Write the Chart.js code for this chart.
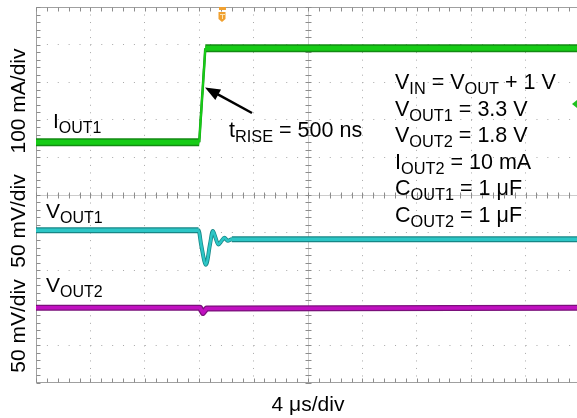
<!DOCTYPE html>
<html>
<head>
<meta charset="utf-8">
<script src="https://cdn.jsdelivr.net/npm/chart.js@4.4.1/dist/chart.umd.min.js"></script>
<style>
html, body { margin: 0; padding: 0; background: #fff; overflow: hidden; }
canvas { display: block; }
</style>
</head>
<body>
<canvas id="scope" width="592" height="418"></canvas>
<script>
// Time base: 4 us/div, 10 divisions, centred on 0
const timeMin = -20;
const timeMax = 20;
const timePerDiv = 4;
const triggerTime = -6.3;

// IOUT1 load step (mA), 100 mA/div
const iout1Time = [-20, -8.0, -7.55, 20];
const iout1 = [0, 0, 250, 250];

// VOUT1 deviation (mV), 50 mV/div
const vout1Time = [-20, -8.05, -7.85, -7.5, -7.2, -7.0, -6.8, -6.6, -6.35, -6.15, -5.9, -5.6, 20];
const vout1 = [0, 0, -20, -46, -18, -1, -10, -19, -14, -10, -14, -12, -12];

// VOUT2 deviation (mV), 50 mV/div
const vout2Time = [-20, -7.95, -7.72, -7.45, 20];
const vout2 = [0, 0, -7, -1, 0];

// test conditions shown on the screen
const conditions = [
    ['V', 'IN', ' = V', 'OUT', ' + 1 V'],
    ['V', 'OUT1', ' = 3.3 V'],
    ['V', 'OUT2', ' = 1.8 V'],
    ['I', 'OUT2', ' = 10 mA'],
    ['C', 'OUT1', ' = 1 \u03bcF'],
    ['C', 'OUT2', ' = 1 \u03bcF']
];

function toPoints(xs, ys) {
    return xs.map((t, i) => ({ x: t, y: ys[i] }));
}

const FONT = '"Liberation Sans", Arial, Helvetica, sans-serif';

// draw text where every odd part is a subscript
function drawSubText(ctx, parts, x, y, size) {
    let cx = x;
    parts.forEach((p, i) => {
        const sub = i % 2 === 1;
        ctx.font = (sub ? size * 0.76 : size) + 'px ' + FONT;
        ctx.fillText(p, cx, sub ? y + 5 : y);
        cx += ctx.measureText(p).width;
    });
}

// oscilloscope graticule: frame, centre cross and minor ticks
const graticule = {
    id: 'graticule',
    beforeDatasetsDraw(chart) {
        const { ctx, chartArea: a, scales: { x, y } } = chart;
        const cx = Math.round(x.getPixelForValue(0)) + 0.5;
        const cy = Math.round(y.getPixelForValue(5)) + 0.5;
        const L = Math.round(a.left) + 0.5, T = Math.round(a.top) + 0.5, B = Math.round(a.bottom) - 0.5;
        ctx.save();
        ctx.lineWidth = 1;
        ctx.strokeStyle = '#cccccc';
        ctx.beginPath();
        ctx.moveTo(cx, a.top); ctx.lineTo(cx, a.bottom);
        ctx.moveTo(a.left, cy); ctx.lineTo(a.right, cy);
        ctx.stroke();
        ctx.strokeStyle = '#a0a0a0';
        ctx.beginPath();
        ctx.moveTo(L, a.top); ctx.lineTo(L, a.bottom);
        ctx.moveTo(a.left, T); ctx.lineTo(a.right, T);
        ctx.moveTo(a.left, B); ctx.lineTo(a.right, B);
        ctx.stroke();
        ctx.strokeStyle = '#8c8c8c';
        ctx.beginPath();
        for (let t = timeMin; t <= timeMax + 0.01; t += timePerDiv / 5) {
            const px = Math.round(x.getPixelForValue(t)) + 0.5;
            ctx.moveTo(px, cy - 3); ctx.lineTo(px, cy + 3);
            ctx.moveTo(px, T); ctx.lineTo(px, T + 4);
            ctx.moveTo(px, B); ctx.lineTo(px, B - 4);
        }
        for (let d = 0; d <= 10.01; d += 0.2) {
            const py = Math.round(y.getPixelForValue(d)) + 0.5;
            ctx.moveTo(cx - 3, py); ctx.lineTo(cx + 3, py);
            ctx.moveTo(L, py); ctx.lineTo(L + 4, py);
        }
        ctx.stroke();
        ctx.restore();
    }
};

// labels, arrow and channel markers
const annotations = {
    id: 'annotations',
    afterDatasetsDraw(chart) {
        const { ctx, scales: { x, y } } = chart;
        ctx.save();
        ctx.fillStyle = '#000';
        ctx.textBaseline = 'alphabetic';
        ctx.textAlign = 'left';

        drawSubText(ctx, ['I', 'OUT1'], 53, 128, 21);
        drawSubText(ctx, ['t', 'RISE', ' = 500 ns'], 229, 137, 21.5);
        drawSubText(ctx, ['V', 'OUT1'], 46, 218, 21);
        drawSubText(ctx, ['V', 'OUT2'], 46, 292, 21);
        conditions.forEach((line, i) => drawSubText(ctx, line, 395, 89 + i * 26.5, 21.5));

        // vertical scale labels
        ctx.font = '21px ' + FONT;
        ctx.textAlign = 'center';
        [['100 mA/div', 101], ['50 mV/div', 221], ['50 mV/div', 326]].forEach(([txt, cyPos]) => {
            ctx.save();
            ctx.translate(25, cyPos);
            ctx.rotate(-Math.PI / 2);
            ctx.fillText(txt, 0, 0);
            ctx.restore();
        });

        // arrow pointing at the rising edge
        const tipX = 205, tipY = 87.5, tailX = 252, tailY = 113;
        const ang = Math.atan2(tipY - tailY, tipX - tailX);
        ctx.strokeStyle = '#000';
        ctx.lineWidth = 2.5;
        ctx.beginPath();
        ctx.moveTo(tailX, tailY);
        ctx.lineTo(tipX - 12 * Math.cos(ang), tipY - 12 * Math.sin(ang));
        ctx.stroke();
        ctx.beginPath();
        ctx.moveTo(tipX, tipY);
        ctx.lineTo(tipX - 15 * Math.cos(ang) + 6 * Math.sin(ang), tipY - 15 * Math.sin(ang) - 6 * Math.cos(ang));
        ctx.lineTo(tipX - 15 * Math.cos(ang) - 6 * Math.sin(ang), tipY - 15 * Math.sin(ang) + 6 * Math.cos(ang));
        ctx.closePath();
        ctx.fill();

        // trigger marker
        const tx = Math.round(x.getPixelForValue(triggerTime));
        ctx.fillStyle = '#f0a030';
        ctx.fillRect(tx - 3, 7, 7, 3);
        ctx.beginPath();
        ctx.moveTo(tx - 3.5, 12);
        ctx.lineTo(tx + 3.5, 12);
        ctx.lineTo(tx + 3.5, 19);
        ctx.lineTo(tx, 22);
        ctx.lineTo(tx - 3.5, 19);
        ctx.closePath();
        ctx.fill();
        ctx.fillStyle = '#fde3b0';
        ctx.fillRect(tx - 2, 14, 5, 1);
        ctx.fillRect(tx, 14, 1, 5);

        // channel reference marker on the right edge
        const gy = y.getPixelForValue(7.42);
        ctx.fillStyle = '#20c020';
        ctx.beginPath();
        ctx.moveTo(572, gy);
        ctx.lineTo(577, gy - 4);
        ctx.lineTo(577, gy + 4);
        ctx.closePath();
        ctx.fill();
        ctx.restore();
    }
};

const steep = (ctx) => ctx.p0.parsed.x > -8.1 && ctx.p1.parsed.x < -5.5;

new Chart(document.getElementById('scope').getContext('2d'), {
    type: 'line',
    data: {
        datasets: [
            {
                label: 'IOUT1',
                data: toPoints(iout1Time, iout1),
                yAxisID: 'yI',
                borderColor: '#16cc16',
                borderWidth: 5,
                segment: { borderWidth: (c) => steep(c) ? 2 : undefined },
                order: 1
            },
            {
                label: 'IOUT1 edge',
                data: toPoints(iout1Time, iout1),
                yAxisID: 'yI',
                borderColor: '#138a13',
                borderWidth: 8,
                segment: { borderWidth: (c) => steep(c) ? 2.5 : undefined },
                order: 2
            },
            {
                label: 'VOUT1',
                data: toPoints(vout1Time, vout1),
                yAxisID: 'yV1',
                borderColor: '#2cc6c6',
                borderWidth: 3.5,
                cubicInterpolationMode: 'monotone',
                segment: { borderWidth: (c) => steep(c) ? 2.5 : undefined },
                order: 1
            },
            {
                label: 'VOUT1 edge',
                data: toPoints(vout1Time, vout1),
                yAxisID: 'yV1',
                borderColor: '#178686',
                borderWidth: 6,
                cubicInterpolationMode: 'monotone',
                segment: { borderWidth: (c) => steep(c) ? 4 : undefined },
                order: 2
            },
            {
                label: 'VOUT2',
                data: toPoints(vout2Time, vout2),
                yAxisID: 'yV2',
                borderColor: '#c010c0',
                borderWidth: 3.5,
                order: 1
            },
            {
                label: 'VOUT2 edge',
                data: toPoints(vout2Time, vout2),
                yAxisID: 'yV2',
                borderColor: '#7a107a',
                borderWidth: 6,
                order: 2
            }
        ]
    },
    options: {
        responsive: false,
        animation: false,
        events: [],
        layout: { padding: { left: 36, top: 7, right: 12, bottom: 0 } },
        elements: { point: { radius: 0 }, line: { borderCapStyle: 'butt', borderJoinStyle: 'round' } },
        plugins: { legend: { display: false }, tooltip: { enabled: false } },
        scales: {
            x: {
                type: 'linear',
                min: timeMin,
                max: timeMax,
                ticks: { display: false, stepSize: timePerDiv },
                grid: { color: '#a8a8a8', drawTicks: false },
                border: { display: false, dash: [1, 6.52] },
                title: {
                    display: true,
                    text: '4 \u03bcs/div',
                    color: '#000',
                    font: { family: FONT, size: 21 },
                    padding: { top: 10, bottom: 0 }
                }
            },
            y: {
                type: 'linear',
                min: 0,
                max: 10,
                ticks: { display: false, stepSize: 1 },
                grid: { color: '#a8a8a8', drawTicks: false },
                border: { display: false, dash: [1, 9.88] }
            },
            yI: { type: 'linear', display: false, min: -640, max: 360 },
            yV1: { type: 'linear', display: false, min: -203, max: 297 },
            yV2: { type: 'linear', display: false, min: -100, max: 400 }
        }
    },
    plugins: [graticule, annotations]
});
</script>
</body>
</html>
